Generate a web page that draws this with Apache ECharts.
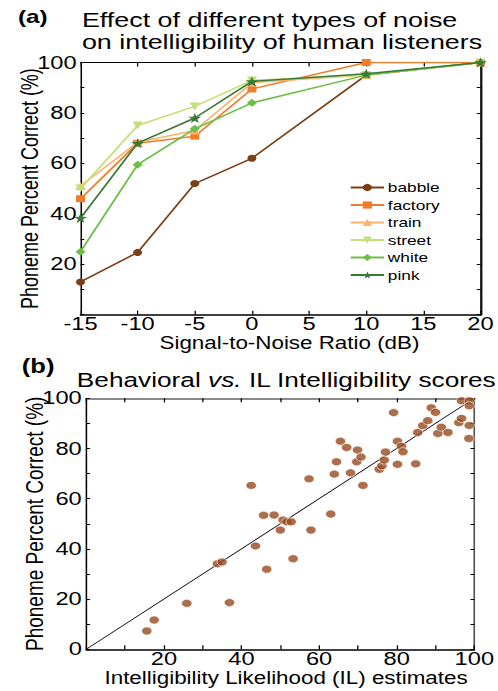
<!DOCTYPE html>
<html>
<head>
<meta charset="utf-8">
<script src="https://cdn.jsdelivr.net/npm/echarts@6/dist/echarts.min.js"></script>
<style>
html,body{margin:0;padding:0;background:#fff;overflow:hidden;}
#wrap{width:498px;height:691px;overflow:hidden;}
#chart{width:389px;height:691px;transform:scaleX(1.28);transform-origin:0 0;}
</style>
</head>
<body>
<div id="wrap"><div id="chart"></div></div>
<script>
// ---- Panel (a) data ----
const snrLevels = [-15, -10, -5, 0, 10, 20];
const babble  = [13, 24.7, 52, 62, 95, 100];
const factory = [46, 68, 70.8, 89.5, 100, 100];
const train   = [51, 68.4, 73, 92, 95, 100];
const street  = [50, 75, 82.6, 92.9, 95, 100];
const white   = [25, 59.5, 73.7, 84, 95, 100];
const pink    = [38.3, 68, 78, 92.5, 95.5, 100];
const noiseNames = ['babble', 'factory', 'train', 'street', 'white', 'pink'];

// ---- Panel (b) data ----
const ilEstimates = [15.6, 17.5, 25.9, 36.9, 33.8, 35.0, 43.6, 46.5, 42.5, 45.7, 48.4, 50.0, 50.7, 51.7, 52.8, 53.3, 57.4, 57.9, 63.0, 63.9, 64.5, 65.5, 67.1, 68.1, 69.7, 69.9, 70.8, 71.3, 75.5, 76.2, 76.8, 77.1, 79.2, 80.2, 80.2, 81.2, 81.6, 84.9, 85.4, 86.7, 88.0, 88.9, 90.0, 90.6, 91.5, 93.2, 96.0, 96.7, 96.7, 98.7, 98.7, 98.7, 98.6];
const behavioralScores = [7.3, 11.7, 18.3, 18.6, 34.1, 34.8, 41.2, 31.9, 65.3, 53.4, 53.5, 47.5, 51.5, 50.8, 50.8, 36.1, 67.9, 47.5, 53.9, 69.8, 74.7, 82.9, 80.4, 70.3, 74.7, 79.4, 76.6, 65.3, 71.7, 73.1, 75.4, 78.6, 94.3, 73.7, 82.9, 80.9, 78.7, 73.9, 86.4, 89.1, 91.1, 96.2, 94.4, 86.0, 88.5, 86.4, 90.3, 92.0, 99.0, 99.0, 97.0, 89.2, 84.0];
const identityLine = [[0, 0], [100, 100]];

const FONT = 'Liberation Sans';
const colors = ['#7b3f16', '#f07c2a', '#fdb36b', '#c5df77', '#6abf45', '#3a7a38'];
const symbols = ['circle', 'rect', 'triangle', 'triangle', 'diamond',
  'path://M0,-10 L2.35,-3.24 L9.51,-3.09 L3.8,1.24 L5.88,8.09 L0,4 L-5.88,8.09 L-3.8,1.24 L-9.51,-3.09 L-2.35,-3.24 Z'];
const rotations = [0, 0, 0, 180, 0, 0];
const sizes = [7, 7, 8, 8, 8, 10];
const values = [babble, factory, train, street, white, pink];

const lineSeries = noiseNames.map((n, i) => ({
  name: n, type: 'line', xAxisIndex: 0, yAxisIndex: 0,
  data: snrLevels.map((x, j) => [x, values[i][j]]),
  symbol: symbols[i], symbolRotate: rotations[i], symbolSize: sizes[i],
  lineStyle: { color: colors[i], width: 1.5 },
  itemStyle: { color: colors[i] },
  z: 2 + i
}));

const tickLbl = { fontFamily: FONT, fontSize: 18.5, color: '#000', lineHeight: 14 };
const nameTxt = { fontFamily: FONT, fontSize: 17.5, color: '#000', lineHeight: 14 };

function mkAxis(o) {
  return Object.assign({
    type: 'value', splitLine: { show: false }, nameMoveOverlap: false,
    axisTick: { show: true, inside: true, length: 4, lineStyle: { color: '#000', width: 1 } },
    axisLine: { show: true, onZero: false, lineStyle: { color: '#000', width: 1.2 } }
  }, o);
}

const titleTxt = { fontFamily: FONT, fontSize: 21, fontWeight: 'normal', color: '#000', lineHeight: 20 };

const option = {
  animation: false,
  backgroundColor: '#fff',
  title: [
    { text: '(a)', left: 9, top: 2, textStyle: { fontFamily: FONT, fontSize: 19, fontWeight: 'bold', color: '#000' } },
    { text: 'Effect of different types of noise', left: 59, top: 4.5, textStyle: titleTxt },
    { text: 'on intelligibility of human listeners', left: 59, top: 27, textStyle: titleTxt },
    { text: '(b)', left: 12, top: 351, textStyle: { fontFamily: FONT, fontSize: 20, fontWeight: 'bold', color: '#000' } },
    { text: '{n|Behavioral }{i|vs.}{n| IL Intelligibility scores}', left: 55, top: 365,
      textStyle: { fontWeight: 'normal', rich: {
        n: { fontFamily: FONT, fontSize: 20.5, fontWeight: 'normal', color: '#000' },
        i: { fontFamily: FONT, fontSize: 20.5, fontWeight: 'normal', color: '#000', fontStyle: 'italic' } } } }
  ],
  legend: {
    data: noiseNames, orient: 'vertical', left: 268, top: 175.5,
    itemWidth: 26, itemHeight: 9, itemGap: 3.5,
    textStyle: { fontFamily: FONT, fontSize: 13.5, color: '#000', padding: [0, 0, 0, -2] }
  },
  grid: [
    { left: 62.9, top: 62.5, width: 312.5, height: 252.2 },
    { left: 67.4, top: 398.3, width: 311.5, height: 251 }
  ],
  xAxis: [
    mkAxis({ gridIndex: 0, position: 'bottom', min: -15, max: 20, interval: 5,
      axisLabel: Object.assign({ margin: 2.5 }, tickLbl),
      axisLine: { show: true, onZero: false, lineStyle: { color: '#000', width: 1.5 } },
      name: 'Signal-to-Noise Ratio (dB)', nameLocation: 'middle', nameGap: 21.5,
      nameTextStyle: Object.assign({ padding: [0, 0, 0, 14] }, nameTxt) }),
    mkAxis({ gridIndex: 0, position: 'top', min: -15, max: 20, interval: 5,
      axisLabel: { show: false }, axisLine: { show: true, onZero: false, lineStyle: { color: '#000', width: 1 } } }),
    mkAxis({ gridIndex: 1, position: 'bottom', min: 0, max: 100, interval: 10,
      axisLabel: Object.assign({ margin: 3, formatter: v => (v % 20 === 0 && v > 0 ? String(v) : '') }, tickLbl),
      axisLine: { show: true, onZero: false, lineStyle: { color: '#000', width: 1.5 } },
      name: 'Intelligibility Likelihood (IL) estimates', nameLocation: 'middle', nameGap: 22,
      nameTextStyle: Object.assign({ padding: [0, 0, 0, 9] }, nameTxt) }),
    mkAxis({ gridIndex: 1, position: 'top', min: 0, max: 100, interval: 10,
      axisLabel: { show: false }, axisLine: { show: true, onZero: false, lineStyle: { color: '#8a8a8a', width: 2 } } })
  ],
  yAxis: [
    mkAxis({ gridIndex: 0, position: 'left', min: 0, max: 100, interval: 10,
      axisTick: { show: true, inside: true, length: 3, lineStyle: { color: '#000' } },
      axisLabel: Object.assign({ margin: 3, formatter: v => (v % 20 === 0 && v > 0 ? String(v) : '') }, tickLbl),
      name: 'Phoneme Percent Correct (%)', nameLocation: 'middle', nameGap: 31,
      nameTextStyle: { fontFamily: FONT, fontSize: 18, color: '#000' } }),
    mkAxis({ gridIndex: 0, position: 'right', min: 0, max: 100, interval: 10,
      axisTick: { show: true, inside: true, length: 3, lineStyle: { color: '#000' } },
      axisLabel: { show: false }, axisLine: { show: true, onZero: false, lineStyle: { color: '#111', width: 1.8 } } }),
    mkAxis({ gridIndex: 1, position: 'left', min: 0, max: 100, interval: 10,
      axisTick: { show: true, inside: true, length: 3, lineStyle: { color: '#000' } },
      axisLabel: Object.assign({ margin: 3.5, formatter: v => (v % 20 === 0 ? String(v) : '') }, tickLbl),
      name: 'Phoneme Percent Correct (%)', nameLocation: 'middle', nameGap: 31,
      nameTextStyle: { fontFamily: FONT, fontSize: 19, color: '#000' } }),
    mkAxis({ gridIndex: 1, position: 'right', min: 0, max: 100, interval: 10,
      axisTick: { show: true, inside: true, length: 3, lineStyle: { color: '#000' } },
      axisLabel: { show: false }, axisLine: { show: true, onZero: false, lineStyle: { color: '#555', width: 1.3 } } })
  ],
  series: lineSeries.concat([
    { name: 'identity', type: 'line', xAxisIndex: 2, yAxisIndex: 2, data: identityLine,
      symbol: 'none', lineStyle: { color: '#000', width: 0.8 }, z: 1, silent: true },
    { name: 'scores', type: 'scatter', xAxisIndex: 2, yAxisIndex: 2,
      data: ilEstimates.map((x, i) => [x, behavioralScores[i]]),
      symbol: 'circle', symbolSize: 8,
      itemStyle: { color: '#974b1f', borderColor: '#fff', borderWidth: 0.7 }, z: 3 }
  ])
};

const chart = echarts.init(document.getElementById('chart'), null, { renderer: 'svg', width: 389, height: 691 });
chart.setOption(option);
</script>
</body>
</html>
